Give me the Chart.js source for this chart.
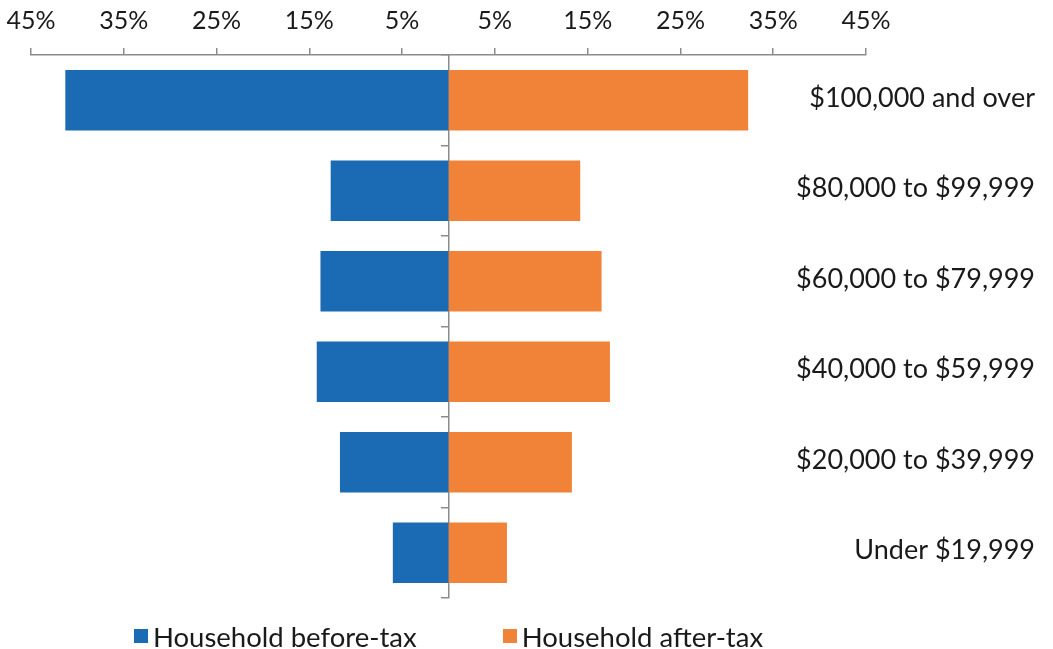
<!DOCTYPE html>
<html>
<head>
<meta charset="utf-8">
<script src="https://cdn.jsdelivr.net/npm/chart.js@4/dist/chart.umd.min.js"></script>
<style>
  body { margin: 0; background: #fff; }
  #wrap { position: relative; width: 1053px; height: 649px; }
  #legend {
    position: absolute; left: 31px; width: 835px; top: 623px;
    display: flex; justify-content: center; gap: 86px;
    font-family: Lato, sans-serif; font-size: 27.5px; line-height: 28px; color: #1a1a1a;
  }
  #legend .item { display: flex; align-items: center; }
  #legend .box { width: 14px; height: 14px; margin-right: 5px; margin-top: -3px; }
</style>
</head>
<body>
<div id="wrap">
  <canvas id="chart" width="1053" height="649"></canvas>
  <div id="legend"></div>
</div>
<script>
// categories, top to bottom
var categories = ["$100,000 and over", "$80,000 to $99,999", "$60,000 to $79,999",
                  "$40,000 to $59,999", "$20,000 to $39,999", "Under $19,999"];
// share of households (%)
var beforeTax = [41.3, 12.7, 13.8, 14.2, 11.7, 6.0];
var afterTax = [32.3, 14.2, 16.5, 17.4, 13.3, 6.3];
var seriesNames = ["Household before-tax", "Household after-tax"];
var seriesColors = ["#1a6ab4", "#f08337"];
var tickValues = [-45, -35, -25, -15, -5, 5, 15, 25, 35, 45];

var axisGray = "#8c8c8c";
var textColor = "#1a1a1a";

// category names sit at the right, right-aligned
var rightLabels = {
    id: "rightLabels",
    afterDraw: function (chart) {
        var ctx = chart.ctx;
        var y = chart.scales.y;
        ctx.save();
        ctx.font = "27px Lato, sans-serif";
        ctx.fillStyle = textColor;
        ctx.textAlign = "right";
        ctx.textBaseline = "middle";
        categories.forEach(function (c, i) {
            ctx.fillText(c, chart.width - 18, y.getPixelForValue(i) - 2);
        });
        ctx.restore();
    }
};

var ctx = document.getElementById("chart").getContext("2d");
var chart = new Chart(ctx, {
    type: "bar",
    data: {
        labels: categories,
        datasets: [{
            label: seriesNames[0],
            data: beforeTax.map(function (v) { return -v; }),
            backgroundColor: seriesColors[0]
        }, {
            label: seriesNames[1],
            data: afterTax,
            backgroundColor: seriesColors[1]
        }]
    },
    options: {
        indexAxis: "y",
        responsive: false,
        animation: false,
        layout: { padding: { left: 31, right: 187, top: 9, bottom: 51 } },
        datasets: { bar: { categoryPercentage: 1, barPercentage: 0.67, borderWidth: 0 } },
        plugins: {
            legend: { display: false },
            tooltip: { enabled: false }
        },
        scales: {
            x: {
                position: "top",
                stacked: true,
                min: -45,
                max: 45,
                afterBuildTicks: function (scale) {
                    scale.ticks = tickValues.map(function (v) { return { value: v }; });
                },
                afterFit: function (scale) {
                    scale.height = 46;
                    scale.paddingLeft = 0;
                    scale.paddingRight = 0;
                },
                ticks: {
                    padding: 12.5,
                    color: textColor,
                    font: { family: "Lato, sans-serif", size: 25 },
                    callback: function (v) { return Math.abs(v) + "%"; }
                },
                grid: { drawOnChartArea: false, tickLength: 7, color: axisGray, lineWidth: 1.5 },
                border: { color: axisGray, width: 1.5 }
            },
            y: {
                position: { x: 0 },
                stacked: true,
                offset: true,
                ticks: { display: false },
                grid: { offset: true, drawOnChartArea: false, tickLength: 7, color: axisGray, lineWidth: 1.5 },
                border: { color: axisGray, width: 1.5 }
            }
        }
    },
    plugins: [rightLabels]
});

// legend below the chart
var legend = document.getElementById("legend");
seriesNames.forEach(function (name, i) {
    var item = document.createElement("div");
    item.className = "item";
    var box = document.createElement("span");
    box.className = "box";
    box.style.background = seriesColors[i];
    var txt = document.createElement("span");
    txt.textContent = name;
    item.appendChild(box);
    item.appendChild(txt);
    legend.appendChild(item);
});
</script>
</body>
</html>
